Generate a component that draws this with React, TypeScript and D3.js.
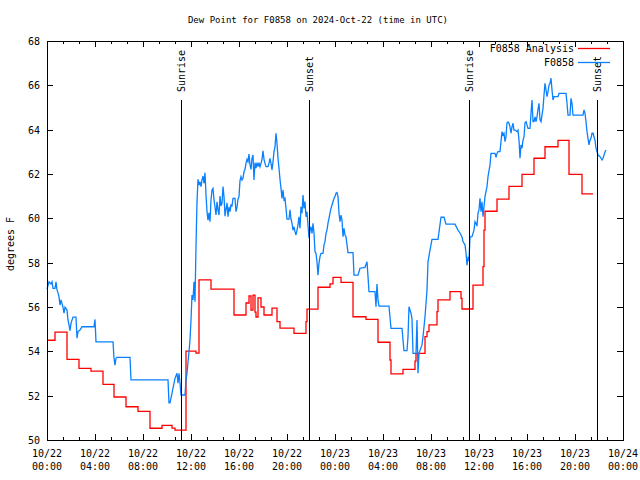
import React from "react";
import * as d3 from "d3";

// ---- Data (minutes after 2024-10-22 00:00 UTC, dew point °F) ----
const obsMinutes = [
  0, 10, 20, 25, 30, 40, 45, 50, 55, 60, 65, 70, 80, 85, 90, 100, 105, 110, 115, 120, 125, 130, 145, 150, 155, 165, 175, 235, 240, 245,
  330, 335, 340, 345, 350, 415, 420, 605, 610, 615, 625, 640, 650, 655, 660, 665, 670, 690, 695, 700, 705, 710, 715,
  720, 725, 730, 735, 740, 745, 750, 755, 760, 765, 770, 775, 780, 785, 790, 795, 800, 805, 810, 815, 820, 825, 830, 835, 840, 845,
  850, 855, 860, 865, 870, 875, 880, 885, 890, 895, 900, 905, 910, 915, 920, 925, 930, 940, 945, 950, 955, 960, 965, 970, 975, 980,
  985, 990, 995, 1000, 1005, 1010, 1015, 1020, 1025, 1030, 1035, 1040, 1045, 1050, 1055, 1060, 1065, 1070, 1075, 1080, 1085, 1090,
  1095, 1105, 1110, 1115, 1120, 1125, 1130, 1135, 1140, 1145, 1150, 1155, 1160, 1165, 1170, 1175, 1180, 1185, 1190, 1195, 1200, 1210,
  1215, 1220, 1225, 1230, 1235, 1240, 1245, 1250, 1255, 1260,
  1265, 1270, 1275, 1280, 1285, 1290, 1295, 1300, 1305, 1310, 1315, 1320, 1325, 1330, 1335, 1340, 1345, 1350, 1355, 1360, 1365, 1370,
  1380, 1385, 1390, 1395, 1400, 1405, 1410, 1415, 1420, 1425, 1430, 1435, 1440, 1445, 1450, 1455, 1460, 1465, 1470, 1475, 1480, 1485,
  1490, 1495, 1500, 1505, 1530, 1535, 1555, 1565, 1590, 1600, 1605, 1610, 1640, 1645, 1650, 1655, 1660, 1710, 1720, 1775, 1780, 1785,
  1800, 1805, 1810, 1820, 1825, 1830, 1845, 1850, 1855, 1860, 1875, 1880, 1890, 1900, 1905, 1915, 1925, 1955, 1970, 1985, 1995, 2040,
  2055, 2065, 2075, 2080, 2090, 2095, 2100, 2105, 2110,
  2115, 2125, 2135, 2140, 2145, 2150, 2155, 2160, 2165, 2170, 2175, 2180, 2190, 2200, 2205, 2215, 2220, 2240, 2245, 2250, 2255, 2265,
  2270, 2275, 2280, 2285, 2290, 2295, 2300, 2305, 2310, 2315, 2320, 2325, 2330, 2335, 2340, 2350, 2355, 2360, 2365, 2370, 2375, 2380,
  2385, 2390, 2395, 2405, 2415, 2420, 2425, 2430, 2435, 2440, 2445, 2450, 2455, 2460, 2465, 2470, 2475, 2480, 2485, 2490, 2495, 2500,
  2505, 2510, 2515, 2520, 2525, 2530, 2535, 2555, 2560, 2595, 2600, 2605, 2615, 2620, 2625, 2630, 2680, 2685, 2690, 2695, 2700, 2705,
  2710, 2715, 2720, 2725, 2730, 2735, 2740, 2745, 2750, 2755, 2765, 2770, 2775, 2780, 2790, 2795,
];
const obsValues = [
  56.81, 57.14, 57.04, 57.14, 56.84, 56.84, 57.14, 56.77, 56.64, 56.46, 56.09, 56.32, 55.99, 55.72, 55.99, 55.86, 55.41, 55.19, 54.93, 55.26, 55.41, 55.54, 55.54, 54.59, 54.89, 54.96, 55.11, 55.11, 55.44, 54.43,
  54.43, 53.69, 53.38, 53.69, 53.73, 53.73, 52.71, 52.71, 51.68, 51.68, 52.11, 52.78, 53.01, 52.56, 53.01, 52.57, 52.03, 52.03, 52.71, 53.01, 53.52, 53.98, 54.51,
  55.41, 56.54, 56.32, 57.14, 56.24, 58.75, 60.75, 61.76, 61.5, 61.65, 61.43, 61.73, 61.91, 61.58, 62.06, 61.05, 60.3, 59.92, 60.25, 59.85, 60.83, 61.28, 61.35, 60.83, 60.5, 60.15,
  60.75, 60.38, 60.15, 61.01, 60.56, 60.68, 61.43, 60.98, 60.1, 60.41, 60.7, 60.07, 60.52, 60.3, 60.6, 60.56, 60.9, 60.9, 60.3, 60.5, 60.86, 60.98, 61.7, 61.88, 61.73, 61.81,
  62.1, 62.21, 62.48, 62.66, 62.55, 62.9, 62.41, 62.21, 62.71, 62.86, 61.73, 62.51, 62.26, 62.51, 62.33, 62.51, 62.33, 62.48, 62.66, 63.05, 62.66, 62.48,
  62.33, 62.33, 62.48, 62.71, 62.48, 62.18, 62.55, 63.01, 63.23, 63.84, 63.38, 62.71, 62.26, 61.76, 61.35, 60.9, 61.28, 60.83, 60.9, 60.45, 59.96, 59.96,
  60.38, 59.96, 59.78, 59.47, 59.62, 59.4, 59.25, 59.47, 59.7, 60.07,
  59.55, 60.52, 60.23, 61.05, 60.45, 60.75, 60.07, 60.3, 59.7, 59.1, 59.47, 59.62, 59.32, 59.78, 59.32, 58.49, 58.42, 58.04, 57.44, 57.97, 58.27, 58.42,
  58.42, 58.8, 58.95, 59.32, 59.47, 59.78, 60.0, 60.23, 60.45, 60.6, 60.75, 60.9, 60.98, 61.13, 61.16, 60.98, 60.23, 59.85, 60.15, 59.92, 59.17, 59.55,
  59.25, 59.17, 58.8, 58.45, 58.45, 57.44, 57.44, 57.75, 57.79, 58.04, 57.37, 56.69, 56.69, 56.01, 57.04, 56.32, 56.04, 56.04, 55.04, 55.04, 54.51, 54.03,
  54.03, 54.66, 56.01, 55.72, 55.44, 53.91, 53.91, 55.41, 53.01, 53.91, 54.29, 54.66, 55.56, 56.77, 58.04, 58.57, 59.05, 59.05, 60.05, 60.05, 59.74, 59.74,
  59.47, 59.34, 59.16, 58.95, 58.8, 58.44, 57.89, 58.21, 58.12,
  59.16, 59.17, 59.47, 59.85, 59.78, 59.65, 60.23, 60.38, 60.9, 60.3, 60.75, 60.07, 60.98, 61.43, 61.88, 62.41, 62.93, 62.93, 62.75, 62.93, 63.01, 63.01,
  63.46, 63.91, 63.76, 63.84, 63.46, 63.68, 64.31, 64.35, 64.29, 64.13, 63.84, 64.13, 64.29, 63.98, 63.98, 63.91, 63.98, 63.53, 62.71, 63.31, 63.16, 63.53,
  63.68, 64.31, 64.36, 64.06, 64.06, 64.74, 65.34, 64.36, 64.36, 64.58, 64.36, 64.58, 64.92, 65.19, 64.44, 64.36, 64.66, 64.96, 65.56, 66.09, 65.79, 65.49,
  65.7, 66.01, 66.09, 66.32, 65.79, 65.34, 65.49, 65.49, 65.64, 65.64, 65.19, 64.66, 64.66, 65.41, 65.19, 64.66, 64.66, 64.89, 64.74, 64.36, 63.91, 63.61,
  63.31, 63.53, 63.61, 63.84, 63.84, 63.68, 63.53, 63.17, 63.01, 62.86, 62.78, 62.71, 62.63, 62.71, 62.99, 63.08,
];

const analysisMinutes = [
  0, 40, 100, 160, 220, 280, 335, 395, 455, 515, 575, 625, 640, 695, 745, 760, 820, 935, 995, 1010, 1020, 1030, 1040, 1045, 1055, 1070,
  1085, 1125, 1150, 1165, 1235, 1295, 1300, 1355, 1415, 1430, 1470, 1530, 1595, 1655, 1715, 1720, 1780, 1840, 1845, 1890, 1900, 1910,
  1950, 1955, 2015, 2070, 2075, 2130, 2180, 2185, 2190, 2250, 2310, 2375, 2435, 2490, 2555, 2610, 2675, 2730,
];
const analysisValues = [
  54.5, 54.87, 53.64, 53.23, 53.11, 52.51, 51.94, 51.5, 51.29, 50.53, 50.66, 50.54, 50.45, 54.01, 53.92, 57.22, 56.81, 55.64, 56.18, 56.5, 55.86, 56.54, 55.77, 55.55, 56.41, 56.0,
  55.64, 55.95, 55.34, 55.05, 54.81, 55.34, 55.9, 56.89, 57.04, 57.34, 57.11, 55.56, 55.44, 54.41, 53.61, 52.98, 53.19, 53.56, 53.91, 54.66, 54.89, 55.19,
  55.79, 56.32, 56.69, 56.39, 55.91, 56.99, 57.82, 59.47, 60.32, 60.87, 61.44, 61.98, 62.71, 63.23, 63.52, 61.98, 61.1, 61.1,
];

const sunMinutes = [672, 1310, 2110, 2750];
const sunLabels = ["Sunrise", "Sunset", "Sunrise", "Sunset"];

const yTicks = [50, 52, 54, 56, 58, 60, 62, 64, 66, 68];
const seriesNames = ["F0858 Analysis", "F0858"];
const seriesColors = ["#ff0000", "#0a80ff"];
const titleText = "Dew Point for F0858 on 2024-Oct-22 (time in UTC)";
const yLabel = "degrees F";

const start = Date.UTC(2024, 9, 22, 0, 0);
const end = Date.UTC(2024, 9, 24, 0, 0);
const toDate = (m: number) => new Date(start + m * 60000);

export default function App() {
  const W = 640, H = 480;
  const L = 47, R = 623, T = 41, B = 440;
  const x = d3.scaleUtc().domain([new Date(start), new Date(end)]).range([L, R]);
  const y = d3.scaleLinear().domain([50, 68]).range([B, T]);
  const font = "'DejaVu Sans Mono', monospace";
  const fs = 10;

  const majorTicks = x.ticks(d3.utcHour.every(4) as any);
  const minorTicks = d3.range(0, 2880 + 1, 80).map(toDate).filter((d) => (+d - start) % (240 * 60000) !== 0);
  const fmtDate = d3.utcFormat("%m/%d");
  const fmtTime = d3.utcFormat("%H:%M");

  const obs = obsMinutes.map((m, i) => [toDate(m), obsValues[i]] as [Date, number]);
  const ana = analysisMinutes.map((m, i) => [toDate(m), analysisValues[i]] as [Date, number]);
  const line = d3.line<[Date, number]>().x((d) => x(d[0])).y((d) => y(d[1]));
  const stepLine = d3.line<[Date, number]>().x((d) => x(d[0])).y((d) => y(d[1])).curve(d3.curveStepAfter);

  const sunTop = y(50 + 18 * 0.852);
  const sunLabelY = y(50 + 18 * 0.872);

  return (
    <svg width={W} height={H} style={{ position: "absolute", left: 0, top: 0, background: "#fff" }} fontFamily={font} fontSize={fs}>
      <rect x={0} y={0} width={W} height={H} fill="#fff" />
      {/* series */}
      <path d={stepLine(ana) || ""} fill="none" stroke={seriesColors[0]} strokeWidth={1.3} />
      <path d={line(obs) || ""} fill="none" stroke={seriesColors[1]} strokeWidth={1.3} />
      {/* sun lines */}
      {sunMinutes.map((m, i) => (
        <g key={"s" + i}>
          <line x1={Math.round(x(toDate(m))) + 0.5} x2={Math.round(x(toDate(m))) + 0.5} y1={sunTop} y2={B} stroke="#000" strokeWidth={1} />
          <text transform={`translate(${x(toDate(m)) + 4},${sunLabelY}) rotate(-90)`} fill="#000">{sunLabels[i]}</text>
        </g>
      ))}
      {/* border */}
      <rect x={L + 0.5} y={T + 0.5} width={R - L} height={B - T} fill="none" stroke="#000" strokeWidth={1} />
      {/* x ticks */}
      {majorTicks.map((d, i) => {
        const px = Math.round(x(d)) + 0.5;
        return (
          <g key={"xt" + i}>
            <line x1={px} x2={px} y1={B} y2={B - 6} stroke="#000" />
            <line x1={px} x2={px} y1={T} y2={T + 6} stroke="#000" />
            <text x={x(d)} y={457} textAnchor="middle" fill="#000">{fmtDate(d)}</text>
            <text x={x(d)} y={470} textAnchor="middle" fill="#000">{fmtTime(d)}</text>
          </g>
        );
      })}
      {minorTicks.map((d, i) => {
        const px = Math.round(x(d)) + 0.5;
        return (
          <g key={"xm" + i}>
            <line x1={px} x2={px} y1={B} y2={B - 3} stroke="#000" />
            <line x1={px} x2={px} y1={T} y2={T + 3} stroke="#000" />
          </g>
        );
      })}
      {/* y ticks */}
      {yTicks.map((v, i) => {
        const py = Math.round(y(v)) + 0.5;
        return (
          <g key={"yt" + i}>
            <line x1={L} x2={L + 6} y1={py} y2={py} stroke="#000" />
            <line x1={R} x2={R - 6} y1={py} y2={py} stroke="#000" />
            <text x={40} y={y(v) + 4} textAnchor="end" fill="#000">{v}</text>
          </g>
        );
      })}
      {/* labels */}
      <text x={318} y={23} textAnchor="middle" fill="#000" fontSize={9}>{titleText}</text>
      <text transform={`translate(14,${244}) rotate(-90)`} textAnchor="middle" fill="#000">{yLabel}</text>
      {/* legend */}
      {seriesNames.map((n, i) => (
        <g key={"lg" + i}>
          <text x={574} y={52 + i * 14} textAnchor="end" fill="#000">{n}</text>
          <line x1={578} x2={610} y1={48.5 + i * 14} y2={48.5 + i * 14} stroke={seriesColors[i]} strokeWidth={1.3} />
        </g>
      ))}
    </svg>
  );
}
